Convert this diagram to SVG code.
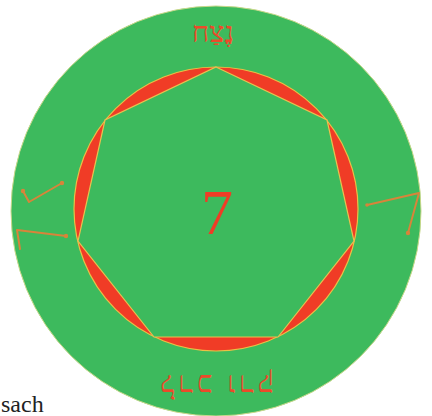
<svg xmlns="http://www.w3.org/2000/svg" width="432" height="416" viewBox="0 0 432 416">
<style>
.glyph{fill:none;stroke:#d8843a;stroke-width:2;stroke-linecap:round;stroke-linejoin:round}
.dot{fill:#d8843a}
.heb{font-family:"Liberation Serif","DejaVu Sans",serif;fill:#ec4a2a}
</style>
<rect width="432" height="416" fill="#ffffff"/>
<g id="disc">
<circle cx="216" cy="211" r="205" fill="#3dba5d" stroke="#c9d98a" stroke-width="1"/>
<circle cx="216" cy="209" r="142" fill="#f03c26" stroke="#ecbf45" stroke-width="1.2"/>
<polygon points="216,67 327,120 354,241 278,337 154,337 78,241 105,120" fill="#3dba5d" stroke="#e9c14f" stroke-width="1.2" stroke-linejoin="miter"/>
</g>
<g id="number">
<text x="217" y="234" font-family="Liberation Serif, serif" font-size="64" fill="#f03c26" text-anchor="middle">7</text>
</g>
<g id="top-label">
<text class="heb" x="213" y="42" font-size="29" text-anchor="middle">נֶצַח</text>
</g>
<g id="bottom-label">
<text class="heb" transform="translate(215,375) rotate(180)" x="0" y="0" font-size="30" letter-spacing="4" text-anchor="middle">לרכ ורק</text>
</g>
<g id="left-glyphs">
<polyline class="glyph" points="23,191 29,202 62,183"/>
<circle class="dot" cx="23" cy="191" r="2.2"/>
<circle class="dot" cx="62" cy="183" r="2.2"/>
<polyline class="glyph" points="20,249 17,230 66,236"/>
<circle class="dot" cx="66" cy="236" r="2.2"/>
</g>
<g id="right-glyph">
<polyline class="glyph" points="367,205 419,193 408,233"/>
<circle class="dot" cx="367" cy="205" r="1.8"/>
<circle class="dot" cx="408" cy="233" r="2.2"/>
</g>
<text x="1" y="412" font-family="Liberation Serif, serif" font-size="24" fill="#222">sach</text>
</svg>
